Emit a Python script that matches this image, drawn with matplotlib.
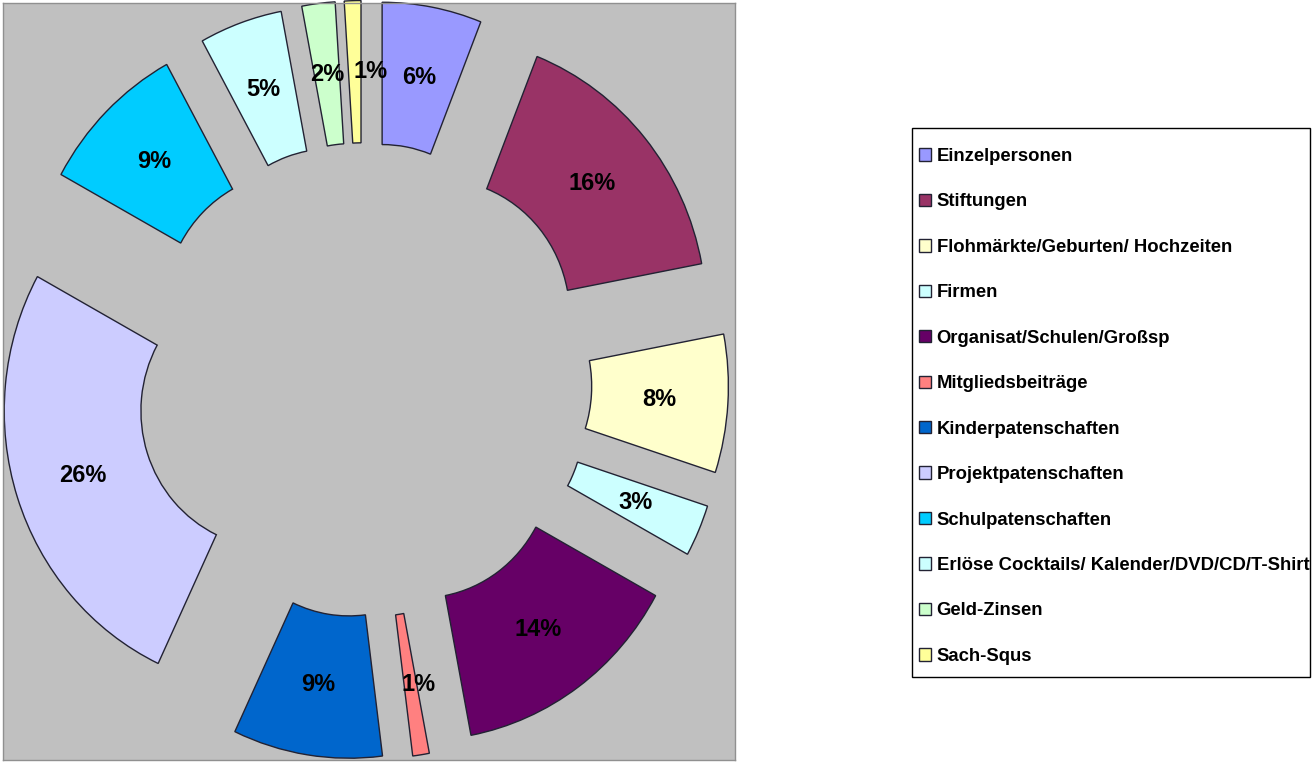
import numpy as np
import matplotlib
matplotlib.use("Agg")
import matplotlib.pyplot as plt
from matplotlib.patches import Rectangle

plt.rcParams['font.family'] = ['Liberation Sans', 'DejaVu Sans']

# Data (percent share of income, clockwise from 12 o'clock)
categories = [
    "Einzelpersonen",
    "Stiftungen",
    "Flohmärkte/Geburten/ Hochzeiten",
    "Firmen",
    "Organisat/Schulen/Großsp",
    "Mitgliedsbeiträge",
    "Kinderpatenschaften",
    "Projektpatenschaften",
    "Schulpatenschaften",
    "Erlöse Cocktails/ Kalender/DVD/CD/T-Shirt",
    "Geld-Zinsen",
    "Sach-Squs",
]
shares = [6, 16, 8, 3, 14, 1, 9, 26, 9, 5, 2, 1]
colors = ["#9999FF", "#993366", "#FFFFCC", "#CCFFFF", "#660066", "#FF8080",
          "#0066CC", "#CCCCFF", "#00CCFF", "#CCFFFF", "#CCFFCC", "#FFFF99"]

fig = plt.figure(figsize=(13.12, 7.62), dpi=100)
ax = fig.add_axes([3 / 1312, 2 / 762, 732 / 1312, 757 / 762])
ax.set_facecolor("#C0C0C0")

wedges, texts, autotexts = ax.pie(
    shares,
    colors=colors,
    startangle=90,
    counterclock=False,
    radius=1.0,
    explode=[0.36] * len(shares),
    autopct="%d%%",
    pctdistance=0.745,
    wedgeprops=dict(width=0.51, edgecolor="#222233", linewidth=1.0),
    textprops=dict(fontsize=17, fontweight="bold", color="black"),
    frame=True,
)
ax.set_aspect("auto")
ax.set_xlim(-1.347, 1.384)
ax.set_ylim(-1.362, 1.351)
ax.set_xticks([])
ax.set_yticks([])
for s in ax.spines.values():
    s.set_color("#909090")
    s.set_linewidth(1)

# nudge the tiny-slice labels apart like the original
x, y = autotexts[-1].get_position()
autotexts[-1].set_position((x + 0.06, y))
x, y = autotexts[5].get_position()
autotexts[5].set_position((x + 0.03, y))

# legend box
fig.patches.append(Rectangle((912 / 1312, 1 - 677 / 762), 398 / 1312, 549 / 762,
                             transform=fig.transFigure, facecolor="white",
                             edgecolor="black", linewidth=1.0))
leg = fig.legend(
    wedges, categories,
    loc="upper left",
    bbox_to_anchor=(919 / 1312, 1 - 148 / 762),
    frameon=False,
    prop=dict(size=13.3, weight="bold"),
    labelspacing=1.54,
    handlelength=0.65, handleheight=0.65, handletextpad=0.3,
    borderpad=0, borderaxespad=0,
)

fig.savefig("out.png", dpi=100)
